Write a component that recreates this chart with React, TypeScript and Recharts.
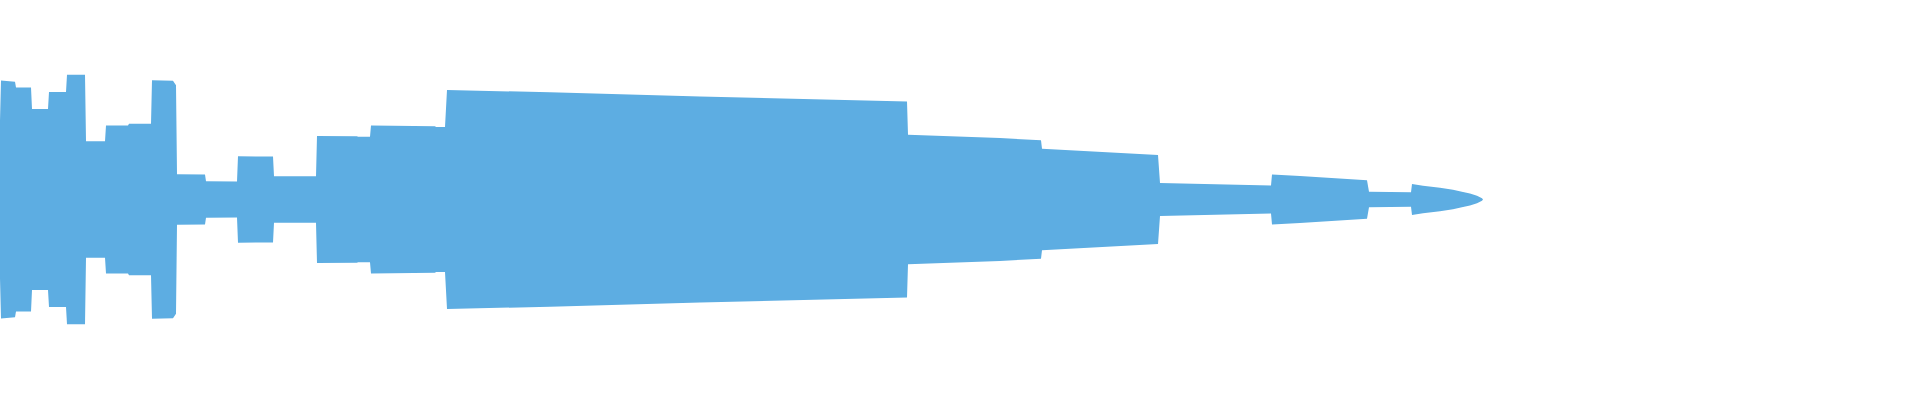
import React from 'react';
import { AreaChart, Area, XAxis, YAxis } from 'recharts';

// time positions (arbitrary time units, 0..1920 span)
const times: number[] = [
  0, 1, 15, 16, 31, 32, 48, 49, 66, 67, 85, 86, 105, 106, 128, 129, 151, 152, 173, 176,
  177, 205, 206, 237, 238, 273, 274, 316, 317, 357, 358, 370, 371, 435, 436, 445, 447,
  550, 700, 907, 908, 1000, 1041, 1042, 1158, 1160, 1271, 1272, 1300, 1367, 1369, 1411,
  1412, 1423, 1440, 1453, 1463, 1470, 1477, 1482, 1483,
];

// stream thickness values
const volume: number[] = [
  79, 119.4, 118, 112.3, 112.3, 90.8, 90.8, 107.8, 107.8, 125, 125, 58.3, 58.3, 74.3, 74.3, 76, 76, 119.5, 119, 114.5,
  25.3, 25, 18.3, 18, 43.3, 43, 23.3, 23.3, 63.7, 63.5, 62.8, 62.8, 74.3, 73.5, 72.8, 72.8, 109.8,
  107.5, 103.3, 98.3, 64.8, 61.7, 59.3, 50.8, 44.7, 16.5, 14, 25, 23.5, 19.3, 7.8, 7.3,
  15.5, 13.7, 11.7, 9.8, 7.5, 6, 3.8, 1.3, 0,
];

const xDomain: [number, number] = [0, 1920];
const yDomain: [number, number] = [-100, 100];

const data = times.map((t, i) => ({ t, value: volume[i] }));

export default function App() {
  return (
    <div style={{ position: 'absolute', left: 0, top: 0, width: 1920, height: 399, background: '#fff' }}>
      <AreaChart
        width={1920}
        height={399}
        data={data}
        stackOffset="silhouette"
        margin={{ top: 0, right: 0, bottom: 0, left: 0 }}
      >
        <XAxis type="number" dataKey="t" domain={xDomain} hide allowDataOverflow />
        <YAxis type="number" domain={yDomain} hide allowDataOverflow />
        <Area
          type="linear"
          dataKey="value"
          stackId="s"
          stroke="none"
          fill="#5dade2"
          fillOpacity={1}
          dot={false}
          activeDot={false}
          isAnimationActive={false}
        />
      </AreaChart>
    </div>
  );
}
